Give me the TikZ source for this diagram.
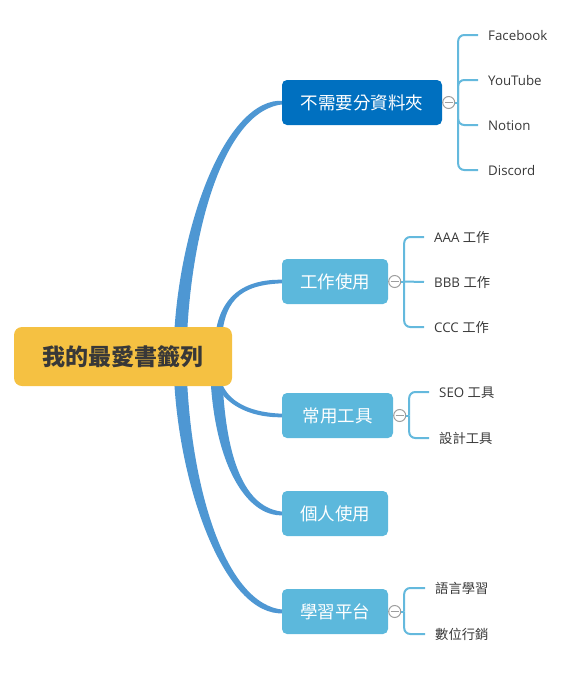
\documentclass[tikz,border=0pt]{standalone}
\usepackage{fontspec}
\setmainfont{Open Sans}
\newfontfamily\cjk{Noto Sans CJK TC}
\usetikzlibrary{calc,backgrounds}
\definecolor{rootcol}{HTML}{F5C142}
\definecolor{darkblue}{HTML}{0070C0}
\definecolor{lightblue}{HTML}{5CB8DC}
\definecolor{branchcol}{HTML}{4E97D3}
\definecolor{brkcol}{HTML}{64B9DD}
\definecolor{txt}{HTML}{383838}
\definecolor{colgray}{HTML}{9E9E9E}
% tapered branch: #1 start, #2 end, #3 c1 dx, #4 c1 dy, #5 c2 dx, #6 start width, #7 mid width, #8 end width, #9 sign (+1 up, -1 down)
\newcommand\taperbranch[9]{%
  \fill[branchcol] let \p1=(#1), \p2=(#2) in
    ({\x1-#6/2},\y1) .. controls ({\x1+#3-#6/2},{\y1+#4}) and ({\x1+#5},{\y2+#9*#7/2}) .. (\x2,{\y2+#9*#8/2})
    -- (\x2,{\y2-#9*#8/2}) .. controls ({\x1+#5},{\y2-#9*#7/2}) and ({\x1+#3+#6/2},{\y1+#4}) .. ({\x1+#6/2},\y1) -- cycle;}
\begin{document}
\begin{tikzpicture}[x=1pt,y=-1pt,
  rootbox/.style={fill=rootcol, rounded corners=8pt, minimum width=218pt, minimum height=59pt, inner sep=0pt, text=txt, font=\cjk\fontsize{23}{27}\selectfont\bfseries},
  topic/.style={fill=lightblue, rounded corners=5pt, minimum height=45pt, inner sep=0pt, text=white, font=\cjk\fontsize{17.5}{21}\selectfont},
  leaf/.style={anchor=west, inner xsep=10pt, inner ysep=0pt, text height=11pt, text depth=0pt, text=txt, font=\fontsize{13.3}{16}\selectfont},
  toggle/.style={circle, draw=colgray, fill=white, line width=1pt, minimum size=12pt, inner sep=0pt, anchor=west},
  minus/.style={draw=colgray, line width=1pt},
  brk/.style={draw=brkcol, line width=2pt, rounded corners=6pt},
]
\useasboundingbox (0,0) rectangle (582,686);

% root and topics
\node[rootbox] (root) at (123,356.5) {我的最愛書籤列};
\node[topic, fill=darkblue, minimum width=160pt] (n1) at (362,102.5) {不需要分資料夾};
\node[topic, minimum width=106pt] (n2) at (335,281.5) {工作使用};
\node[topic, minimum width=111pt] (n3) at (337.5,415.5) {常用工具};
\node[topic, minimum width=106pt] (n4) at (335,513.5) {個人使用};
\node[topic, minimum width=106pt] (n5) at (335,611.5) {學習平台};

% branch start points inside the root
\coordinate (s1) at (180,350);
\coordinate (s2) at (218,350);
\coordinate (s3) at (215,365);
\coordinate (s4) at (216,365);
\coordinate (s5) at (180,365);
\coordinate (e1) at ($(n1.west)+(2,0)$);
\coordinate (e2) at ($(n2.west)+(2,0)$);
\coordinate (e3) at ($(n3.west)+(2,0)$);
\coordinate (e4) at ($(n4.west)+(2,0)$);
\coordinate (e5) at ($(n5.west)+(2,0)$);
\begin{pgfonlayer}{background}
  \taperbranch{s1}{e1}{3}{120}{45}{13}{12}{3.5}{1}
  \taperbranch{s2}{e2}{0}{50}{22}{7}{6}{3.5}{1}
  \taperbranch{s3}{e3}{0}{-30}{25}{7}{6}{3.5}{-1}
  \taperbranch{s4}{e4}{2}{-95}{29}{12}{9}{3.5}{-1}
  \taperbranch{s5}{e5}{3}{-120}{45}{13}{12}{3.5}{-1}
\end{pgfonlayer}

% toggles
\node[toggle] (k1) at (n1.east) {};
\node[toggle] (k2) at (n2.east) {};
\node[toggle] (k3) at (n3.east) {};
\node[toggle] (k5) at (n5.east) {};
\foreach \k in {k1,k2,k3,k5}{
  \draw[minus] ($(\k.west)+(2.5,0)$) -- ($(\k.east)+(-2.5,0)$);
}
\coordinate (j1) at ($(k1.east)+(3,0)$);
\coordinate (j2) at ($(k2.east)+(3,0)$);
\coordinate (j3) at ($(k3.east)+(3,0)$);
\coordinate (j5) at ($(k5.east)+(3,0)$);

% leaves
\node[leaf] (l11) at (478,35) {Facebook};
\node[leaf] (l12) at (478,80) {YouTube};
\node[leaf] (l13) at (478,125) {Notion};
\node[leaf] (l14) at (478,170) {Discord};
\node[leaf] (l21) at (424,237) {AAA {\cjk 工作}};
\node[leaf] (l22) at (424,282) {BBB {\cjk 工作}};
\node[leaf] (l23) at (424,327) {CCC {\cjk 工作}};
\node[leaf] (l31) at (429,392) {SEO {\cjk 工具}};
\node[leaf] (l32) at (429,438) {\cjk 設計工具};
\node[leaf] (l51) at (425,588) {\cjk 語言學習};
\node[leaf] (l52) at (425,634) {\cjk 數位行銷};

% brackets
\draw[brk, rounded corners=0pt] (k1.east) -- (j1);
\draw[brk, rounded corners=0pt] (k2.east) -- (j2);
\draw[brk, rounded corners=0pt] (k3.east) -- (j3);
\draw[brk, rounded corners=0pt] (k5.east) -- (j5);
\foreach \l in {l11,l12,l13,l14}{ \draw[brk] (j1) |- (\l.west); }
\foreach \l in {l21,l23}{ \draw[brk] (j2) |- (\l.west); }
\draw[brk] (j2) -- (l22.west);
\foreach \l in {l31,l32}{ \draw[brk] (j3) |- (\l.west); }
\foreach \l in {l51,l52}{ \draw[brk] (j5) |- (\l.west); }
\end{tikzpicture}
\end{document}
